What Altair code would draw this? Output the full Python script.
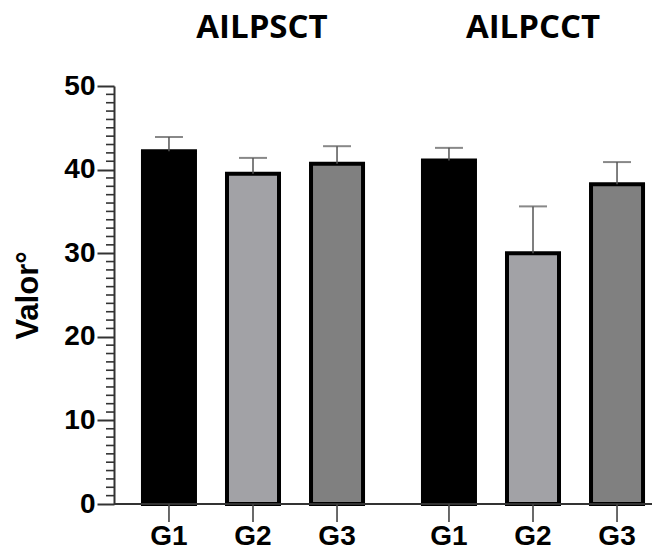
import altair as alt
import pandas as pd

# ---- data ----
group_order = ["AILPSCT", "AILPCCT"]
bar_order = ["G1", "G2", "G3"]
groups = ["AILPSCT", "AILPSCT", "AILPSCT", "AILPCCT", "AILPCCT", "AILPCCT"]
bars = ["G1", "G2", "G3", "G1", "G2", "G3"]
means = [42.2, 39.5, 40.7, 41.1, 30.0, 38.25]
upper = [43.9, 41.4, 42.8, 42.6, 35.6, 40.9]
fills = ["#000000", "#a2a2a6", "#808080"]
y_ticks = [0, 10, 20, 30, 40, 50]
minor_ticks = [v for v in range(0, 51) if v % 10 != 0]

df = pd.DataFrame({"group": groups, "bar": bars, "mean": means, "upper": upper})
titles_df = pd.DataFrame({"group": group_order})
minor_df = pd.DataFrame({"v": minor_ticks})

W, H = 538, 418
LABEL_FONT = "Liberation Sans"

x_enc = alt.X("group:N", sort=group_order, axis=None,
              scale=alt.Scale(range=[13, 545], paddingInner=0.1, paddingOuter=0))
xo_enc = alt.XOffset("bar:N", sort=bar_order,
                     scale=alt.Scale(paddingInner=0.381, paddingOuter=0.19))
yscale = alt.Scale(domain=[0, 50], nice=False, zero=True)

y_axis = alt.Axis(values=y_ticks, title="Valor°", titleFont=LABEL_FONT, titleFontSize=31,
                  titleFontWeight="bold", titleColor="black", titleAngle=-90,
                  titleX=-77, titleY=H / 2, titleAlign="center", titleBaseline="alphabetic",
                  labelFont=LABEL_FONT, labelFontSize=28, labelFontWeight="bold",
                  labelColor="black", labelPadding=2, tickSize=17, tickWidth=2,
                  tickColor="#333333", domainColor="#333333", domainWidth=2, grid=False)

base = alt.Chart(df)

bars_layer = base.mark_bar(stroke="black", strokeWidth=4).encode(
    x=x_enc, xOffset=xo_enc,
    y=alt.Y("mean:Q", scale=yscale, axis=y_axis),
    fill=alt.Fill("bar:N", sort=bar_order,
                  scale=alt.Scale(domain=bar_order, range=fills), legend=None))

minor = alt.Chart(minor_df).mark_rule(color="#333333", strokeWidth=1.6).encode(
    y=alt.Y("v:Q", scale=yscale, axis=y_axis),
    x=alt.value(-8), x2=alt.value(0))

err_line = base.mark_rule(color="#555555", strokeWidth=1.5).encode(
    x=x_enc, xOffset=xo_enc,
    y=alt.Y("mean:Q", scale=yscale, axis=y_axis), y2="upper:Q")

caps = base.mark_tick(color="#555555", size=28, thickness=2).encode(
    x=x_enc, xOffset=xo_enc,
    y=alt.Y("upper:Q", scale=yscale, axis=y_axis))

x_line = alt.Chart(titles_df.head(1)).mark_rule(color="#333333", strokeWidth=2).encode(
    y=alt.value(H), x=alt.value(0), x2=alt.value(W))

x_ticks = base.mark_rule(color="#444444", strokeWidth=1.6).encode(
    x=x_enc, xOffset=xo_enc, y=alt.value(H), y2=alt.value(H + 18))

x_labels = base.mark_text(font=LABEL_FONT, fontSize=28, fontWeight="bold",
                          color="black", baseline="alphabetic", align="center").encode(
    x=x_enc, xOffset=xo_enc, y=alt.value(H + 41), text="bar:N")

title_base = alt.Chart(titles_df).encode(x=x_enc, y=alt.value(-48), text="group:N")
title_style = dict(font="Open Sans", fontSize=33, fontWeight="bold", color="black",
                   baseline="alphabetic", align="center")
title_1 = title_base.mark_text(dx=9, **title_style).transform_filter(
    alt.datum.group == group_order[0])
title_2 = title_base.mark_text(**title_style).transform_filter(
    alt.datum.group == group_order[1])

chart = alt.layer(bars_layer, minor, err_line, caps, x_line, x_ticks, x_labels,
                  title_1, title_2).properties(
    width=W, height=H,
    autosize=alt.AutoSizeParams(type="none"),
    padding={"left": 106, "top": 78, "right": 0, "bottom": 48},
).configure_view(stroke=None)

chart.save("out.html", embed_options={"renderer": "svg", "actions": False})
